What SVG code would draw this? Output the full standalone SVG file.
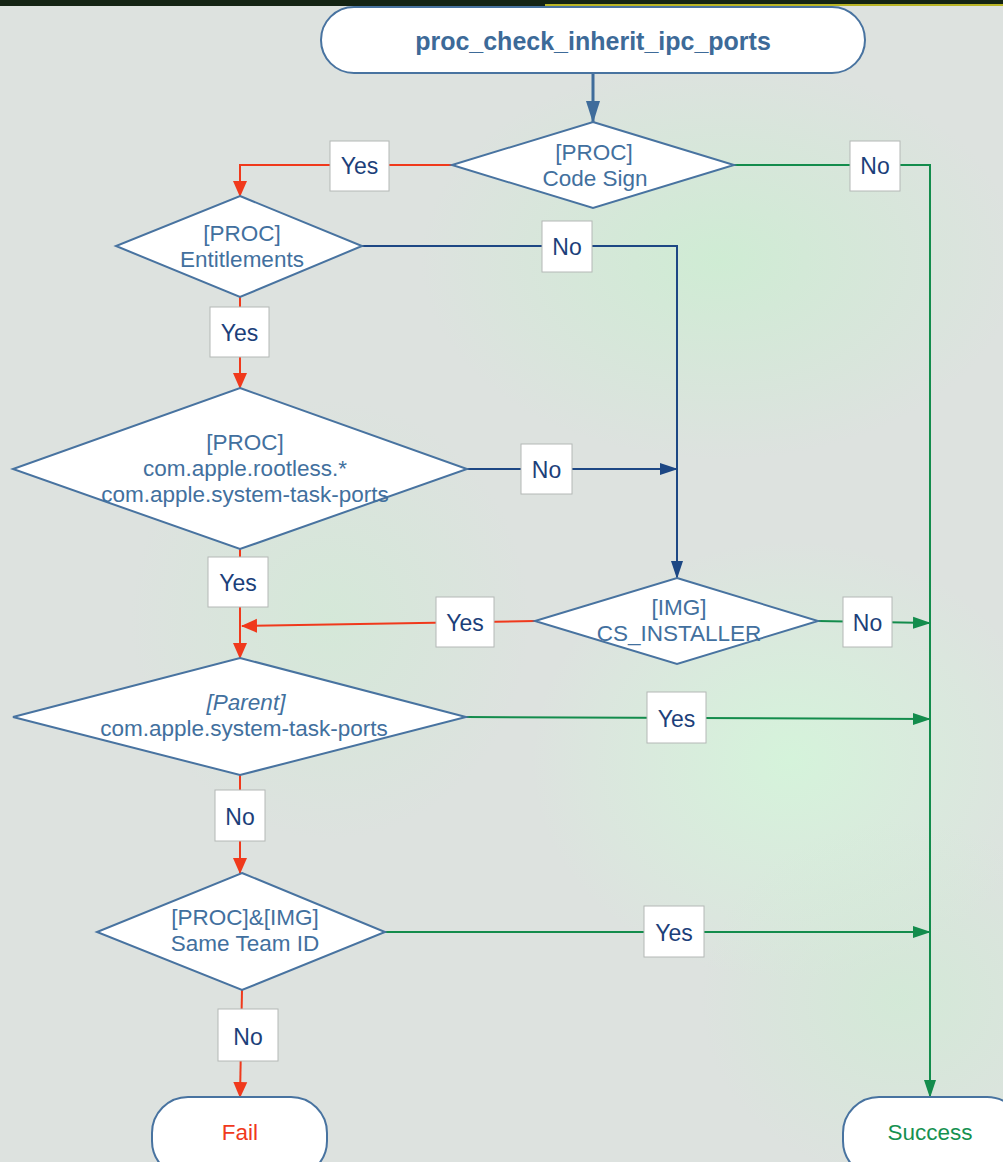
<svg xmlns="http://www.w3.org/2000/svg" width="1003" height="1162" viewBox="0 0 1003 1162">
<defs>
<style>
.node{fill:#ffffff;stroke:#4873a0;stroke-width:2}
.ntext{font-family:"Liberation Sans",Arial,sans-serif;font-size:22.5px;fill:#42709e;text-anchor:middle}
.title{font-family:"Liberation Sans",Arial,sans-serif;font-size:25px;font-weight:bold;fill:#3d6a98;text-anchor:middle}
.lbox{fill:#ffffff;stroke:#b4b8b6;stroke-width:1}
.ltext{font-family:"Liberation Sans",Arial,sans-serif;font-size:23px;fill:#1c3f7a;text-anchor:middle}
.red{fill:none;stroke:#f0391c;stroke-width:2}
.green{fill:none;stroke:#138c4c;stroke-width:2}
.navy{fill:none;stroke:#1d4784;stroke-width:2}
.steel{fill:none;stroke:#3f6c9b;stroke-width:3}
</style>
<marker id="aRed" markerUnits="userSpaceOnUse" markerWidth="16" markerHeight="18" viewBox="0 0 16 18" refX="15" refY="9" orient="auto"><path d="M0,2 L16,9 L0,16 Z" fill="#f0391c"/></marker>
<marker id="aGreen" markerUnits="userSpaceOnUse" markerWidth="18" markerHeight="14" viewBox="0 0 18 14" refX="17" refY="7" orient="auto"><path d="M0,1 L18,7 L0,13 Z" fill="#138c4c"/></marker>
<marker id="aNavy" markerUnits="userSpaceOnUse" markerWidth="18" markerHeight="14" viewBox="0 0 18 14" refX="17" refY="7" orient="auto"><path d="M0,1 L18,7 L0,13 Z" fill="#1d4784"/></marker>
<marker id="aSteel" markerUnits="userSpaceOnUse" markerWidth="22" markerHeight="16" viewBox="0 0 22 16" refX="21" refY="8" orient="auto"><path d="M0,1 L22,8 L0,15 Z" fill="#3f6c9b"/></marker>
<radialGradient id="g1" cx="0.5" cy="0.5" r="0.5"><stop offset="0" stop-color="#d4f5da" stop-opacity="0.9"/><stop offset="1" stop-color="#d4f5da" stop-opacity="0"/></radialGradient>
<radialGradient id="g2" cx="0.5" cy="0.5" r="0.5"><stop offset="0" stop-color="#c9f0cf" stop-opacity="0.7"/><stop offset="1" stop-color="#c9f0cf" stop-opacity="0"/></radialGradient>
</defs>
<g id="background">
<rect x="0" y="0" width="1003" height="1162" fill="#dde2df"/>
<ellipse cx="790" cy="760" rx="260" ry="220" fill="url(#g1)"/>
<ellipse cx="720" cy="260" rx="300" ry="200" fill="url(#g2)"/>
<ellipse cx="330" cy="620" rx="200" ry="220" fill="url(#g2)" opacity="0.6"/>
<ellipse cx="900" cy="1000" rx="200" ry="180" fill="url(#g2)" opacity="0.7"/>
<rect x="0" y="0" width="1003" height="6" fill="#142414"/>
<rect x="545" y="4" width="458" height="2" fill="#b9b526"/>
</g>
<g id="connectors">
<line class="steel" x1="593" y1="73" x2="593" y2="122" marker-end="url(#aSteel)"/>
<polyline class="red" points="452,165 240,165 240,196" marker-end="url(#aRed)"/>
<polyline class="green" points="734,165 930,165 930,1097" marker-end="url(#aGreen)"/>
<polyline class="navy" points="362,246 677,246 677,578" marker-end="url(#aNavy)"/>
<line class="red" x1="240" y1="297" x2="240" y2="388" marker-end="url(#aRed)"/>
<line class="navy" x1="467" y1="469" x2="677" y2="469" marker-end="url(#aNavy)"/>
<line class="red" x1="240" y1="549" x2="240" y2="658" marker-end="url(#aRed)"/>
<line class="red" x1="535" y1="621" x2="242" y2="626" marker-end="url(#aRed)"/>
<line class="green" x1="818" y1="621" x2="930" y2="623" marker-end="url(#aGreen)"/>
<line class="green" x1="466" y1="717" x2="930" y2="719" marker-end="url(#aGreen)"/>
<line class="red" x1="240" y1="775" x2="240" y2="873" marker-end="url(#aRed)"/>
<line class="green" x1="385" y1="932" x2="930" y2="932" marker-end="url(#aGreen)"/>
<line class="red" x1="242" y1="990" x2="240" y2="1097" marker-end="url(#aRed)"/>
<g id="edge-labels">
<rect class="lbox" x="330" y="141" width="59" height="50"/><text class="ltext" x="359.5" y="174">Yes</text>
<rect class="lbox" x="850" y="141" width="50" height="50"/><text class="ltext" x="875" y="174">No</text>
<rect class="lbox" x="542" y="221" width="50" height="51"/><text class="ltext" x="567" y="255">No</text>
<rect class="lbox" x="210" y="307" width="59" height="50"/><text class="ltext" x="239.5" y="341">Yes</text>
<rect class="lbox" x="521" y="444" width="51" height="50"/><text class="ltext" x="546.5" y="478">No</text>
<rect class="lbox" x="208" y="557" width="60" height="50"/><text class="ltext" x="238" y="591">Yes</text>
<rect class="lbox" x="436" y="597" width="58" height="50"/><text class="ltext" x="465" y="631">Yes</text>
<rect class="lbox" x="843" y="597" width="49" height="50"/><text class="ltext" x="867.5" y="631">No</text>
<rect class="lbox" x="647" y="692" width="59" height="51"/><text class="ltext" x="676.5" y="727">Yes</text>
<rect class="lbox" x="215" y="790" width="50" height="51"/><text class="ltext" x="240" y="825">No</text>
<rect class="lbox" x="644" y="906" width="60" height="51"/><text class="ltext" x="674" y="941">Yes</text>
<rect class="lbox" x="218" y="1009" width="60" height="52"/><text class="ltext" x="248" y="1045">No</text>
</g>
</g>
<g id="start">
<rect class="node" x="321" y="7" width="544" height="66" rx="33" ry="33"/>
<text class="title" x="593" y="50">proc_check_inherit_ipc_ports</text>
</g>
<g id="code-sign">
<polygon class="node" points="593,122 734,165 593,208 452,165"/>
<text class="ntext" x="594" y="160">[PROC]</text>
<text class="ntext" x="595" y="186">Code Sign</text>
</g>
<g id="entitlements">
<polygon class="node" points="240,196 362,246 240,297 116,246"/>
<text class="ntext" x="242" y="241">[PROC]</text>
<text class="ntext" x="242" y="267">Entitlements</text>
</g>
<g id="rootless">
<polygon class="node" points="240,388 467,469 240,549 13,469"/>
<text class="ntext" x="245" y="450">[PROC]</text>
<text class="ntext" x="245" y="476">com.apple.rootless.*</text>
<text class="ntext" x="245" y="502">com.apple.system-task-ports</text>
</g>
<g id="cs-installer">
<polygon class="node" points="677,578 818,621 677,664 535,621"/>
<text class="ntext" x="679" y="615">[IMG]</text>
<text class="ntext" x="679" y="641">CS_INSTALLER</text>
</g>
<g id="parent">
<polygon class="node" points="240,658 466,717 240,775 13,717"/>
<text class="ntext" x="246" y="710" font-style="italic">[Parent]</text>
<text class="ntext" x="244" y="736">com.apple.system-task-ports</text>
</g>
<g id="team-id">
<polygon class="node" points="242,873 385,932 242,990 97,932"/>
<text class="ntext" x="245" y="925">[PROC]&amp;[IMG]</text>
<text class="ntext" x="245" y="951">Same Team ID</text>
</g>
<g id="fail">
<rect class="node" x="152" y="1097" width="175" height="80" rx="36" ry="36"/>
<text class="ntext" x="240" y="1140" style="fill:#f0391c">Fail</text>
</g>
<g id="success">
<rect class="node" x="843" y="1097" width="180" height="80" rx="36" ry="36"/>
<text class="ntext" x="930" y="1140" style="fill:#159150">Success</text>
</g>
</svg>
